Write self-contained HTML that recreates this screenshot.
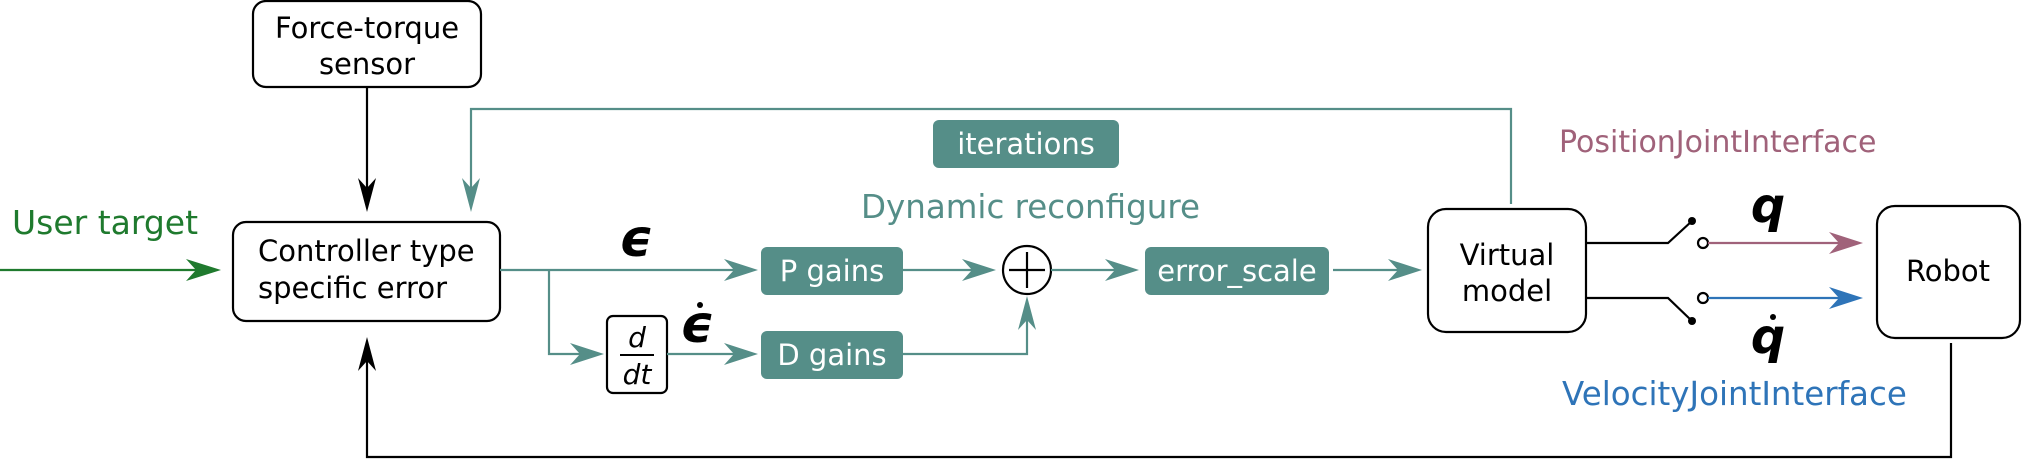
<!DOCTYPE html>
<html><head><meta charset="utf-8"><style>
html,body{margin:0;padding:0;background:#fff;}
svg{display:block;}
text{font-family:"DejaVu Sans","Liberation Sans",sans-serif;}
</style></head><body>
<svg width="2022" height="459" viewBox="0 0 2022 459" xmlns="http://www.w3.org/2000/svg">
<g fill="none" stroke-width="2.2">
<rect x="253" y="1" width="228" height="86" rx="13" stroke="#000"/>
<line x1="367" y1="87" x2="367" y2="205" stroke="#000"/>
<path d="M367,212 L358,178 L367,188 L376,178 Z" fill="#000" stroke="none"/>
<rect x="233" y="222" width="267" height="99" rx="13" stroke="#000"/>
<line x1="0" y1="270" x2="210" y2="270" stroke="#1f7a2e"/>
<path d="M221,270 L186,259 L196,270 L186,281 Z" fill="#1f7a2e" stroke="none"/>
<polyline points="1511,204 1511,109 471,109 471,205" stroke="#558e88"/>
<path d="M471,212 L462,178 L471,188 L480,178 Z" fill="#558e88" stroke="none"/>
<line x1="500" y1="270" x2="752" y2="270" stroke="#558e88"/>
<path d="M758,270 L724,259 L734,270 L724,281 Z" fill="#558e88" stroke="none"/>
<polyline points="549,270 549,354 597,354" stroke="#558e88"/>
<path d="M604,354 L570,343 L580,354 L570,365 Z" fill="#558e88" stroke="none"/>
<rect x="607" y="316" width="60" height="77" rx="6" stroke="#000"/>
<line x1="667" y1="354" x2="752" y2="354" stroke="#558e88"/>
<path d="M758,354 L724,343 L734,354 L724,365 Z" fill="#558e88" stroke="none"/>
<line x1="903" y1="270" x2="990" y2="270" stroke="#558e88"/>
<path d="M996,270 L962,259 L972,270 L962,281 Z" fill="#558e88" stroke="none"/>
<circle cx="1027" cy="270" r="24" stroke="#000"/>
<line x1="1027" y1="252" x2="1027" y2="288" stroke="#000"/>
<line x1="1009" y1="270" x2="1045" y2="270" stroke="#000"/>
<polyline points="903,354 1027,354 1027,302" stroke="#558e88"/>
<path d="M1027,296 L1018,330 L1027,320 L1036,330 Z" fill="#558e88" stroke="none"/>
<line x1="1051" y1="270" x2="1133" y2="270" stroke="#558e88"/>
<path d="M1139,270 L1105,259 L1115,270 L1105,281 Z" fill="#558e88" stroke="none"/>
<line x1="1333" y1="270" x2="1416" y2="270" stroke="#558e88"/>
<path d="M1422,270 L1388,259 L1398,270 L1388,281 Z" fill="#558e88" stroke="none"/>
<rect x="1428" y="209" width="158" height="123" rx="18" stroke="#000"/>
<polyline points="1586,243 1668,243 1692,221" stroke="#000"/>
<polyline points="1586,298 1668,298 1692,321" stroke="#000"/>
<circle cx="1692" cy="221" r="4" fill="#000" stroke="none"/>
<circle cx="1692" cy="321" r="4" fill="#000" stroke="none"/>
<circle cx="1703" cy="243" r="5" fill="#fff" stroke="#000"/>
<circle cx="1703" cy="298" r="5" fill="#fff" stroke="#000"/>
<line x1="1708" y1="243" x2="1855" y2="243" stroke="#a0627a"/>
<path d="M1863,243 L1829,232 L1839,243 L1829,254 Z" fill="#a0627a" stroke="none"/>
<line x1="1708" y1="298" x2="1855" y2="298" stroke="#2e74b8"/>
<path d="M1863,298 L1829,287 L1839,298 L1829,309 Z" fill="#2e74b8" stroke="none"/>
<rect x="1877" y="206" width="143" height="132" rx="18" stroke="#000"/>
<polyline points="1951,343 1951,457 367,457 367,345" stroke="#000"/>
<path d="M367,337 L358,371 L367,361 L376,371 Z" fill="#000" stroke="none"/>
</g>
<g fill="#558e88">
<rect x="933" y="120" width="186" height="48" rx="6"/>
<rect x="761" y="247" width="142" height="48" rx="6"/>
<rect x="761" y="331" width="142" height="48" rx="6"/>
<rect x="1145" y="247" width="184" height="48" rx="6"/>
</g>
<g font-size="29" fill="#fff" text-anchor="middle">
<text x="1026" y="154">iterations</text>
<text x="832" y="281">P gains</text>
<text x="832" y="365">D gains</text>
<text x="1237" y="281">error_scale</text>
</g>
<g font-size="29" fill="#000" text-anchor="middle">
<text x="367" y="38">Force-torque</text>
<text x="367" y="74">sensor</text>
<text x="1507" y="265">Virtual</text>
<text x="1507" y="301">model</text>
<text x="1948" y="281">Robot</text>
</g>
<g font-size="29" fill="#000">
<text x="258" y="261">Controller type</text>
<text x="258" y="298">specific error</text>
</g>
<text x="12" y="234" font-size="33" fill="#1f7a2e">User target</text>
<text x="861" y="218" font-size="32.5" fill="#558e88">Dynamic reconfigure</text>
<text x="1559" y="152" font-size="30" fill="#a0627a">PositionJointInterface</text>
<text x="1562" y="405" font-size="32.5" fill="#2e74b8">VelocityJointInterface</text>
<g font-family="Liberation Serif, serif" font-weight="bold">
<text x="636" y="256" font-size="52" font-style="italic" text-anchor="middle">ϵ</text>
<text x="697" y="342" font-size="52" font-style="italic" text-anchor="middle">ϵ</text>
<circle cx="700" cy="305" r="3" fill="#000"/>
<text x="1768" y="222" font-size="48" font-style="italic" text-anchor="middle">q</text>
<text x="1768" y="353" font-size="48" font-style="italic" text-anchor="middle">q</text>
<circle cx="1773" cy="317" r="3" fill="#000"/>
</g>
<g font-family="Liberation Serif, serif" font-style="italic" font-size="28" text-anchor="middle">
<text x="637" y="347">d</text>
<line x1="620" y1="355" x2="654" y2="355" stroke="#000" stroke-width="2"/>
<text x="637" y="384">dt</text>
</g>
</svg>
</body></html>
